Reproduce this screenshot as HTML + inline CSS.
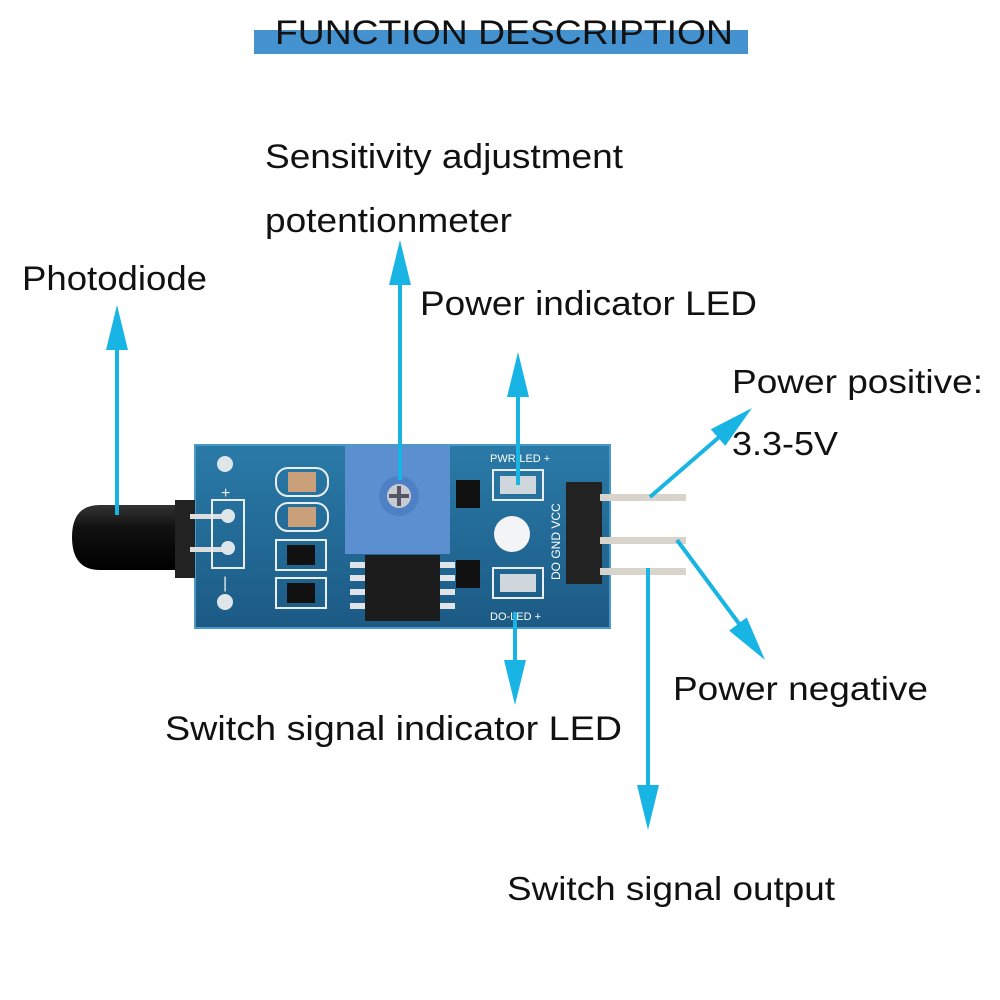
<!DOCTYPE html>
<html><head><meta charset="utf-8"><style>
html,body{margin:0;padding:0;background:#fff;}
svg{display:block;}
text{font-family:"Liberation Sans",sans-serif;fill:#111;}
</style></head><body>
<svg width="1000" height="1000" viewBox="0 0 1000 1000" xmlns="http://www.w3.org/2000/svg">
<defs>
<linearGradient id="pcb" x1="0" y1="0" x2="0" y2="1">
<stop offset="0" stop-color="#2a7aa8"/><stop offset="1" stop-color="#1c5a85"/>
</linearGradient>
<linearGradient id="pd" x1="0" y1="0" x2="0" y2="1">
<stop offset="0" stop-color="#333"/><stop offset="0.35" stop-color="#111"/><stop offset="1" stop-color="#000"/>
</linearGradient>
<polygon id="hd" points="0,0 -11,45 11,45" fill="#18b4e4"/>
</defs>

<!-- title -->
<rect x="254" y="30" width="494" height="24" fill="#4492d0"/>
<text x="275" y="44" font-size="34" textLength="458" lengthAdjust="spacingAndGlyphs">FUNCTION DESCRIPTION</text>

<!-- labels -->
<text x="265" y="168" font-size="34" textLength="358" lengthAdjust="spacingAndGlyphs">Sensitivity adjustment</text>
<text x="265" y="232" font-size="34" textLength="247" lengthAdjust="spacingAndGlyphs">potentionmeter</text>
<text x="22" y="290" font-size="34" textLength="185" lengthAdjust="spacingAndGlyphs">Photodiode</text>
<text x="420" y="315" font-size="34" textLength="337" lengthAdjust="spacingAndGlyphs">Power indicator LED</text>
<text x="732" y="393" font-size="33" textLength="251" lengthAdjust="spacingAndGlyphs">Power positive:</text>
<text x="732" y="455" font-size="33" textLength="106" lengthAdjust="spacingAndGlyphs">3.3-5V</text>
<text x="673" y="700" font-size="33" textLength="255" lengthAdjust="spacingAndGlyphs">Power negative</text>
<text x="165" y="740" font-size="34" textLength="457" lengthAdjust="spacingAndGlyphs">Switch signal indicator LED</text>
<text x="507" y="900" font-size="33" textLength="328" lengthAdjust="spacingAndGlyphs">Switch signal output</text>

<!-- board -->
<rect x="195" y="445" width="415" height="183" fill="url(#pcb)" stroke="#4a9ac8" stroke-width="2"/>
<path d="M190,505 L100,505 Q72,505 72,537 Q72,570 100,570 L190,570 Z" fill="url(#pd)"/>
<rect x="175" y="500" width="20" height="78" fill="#222"/>
<rect x="190" y="514" width="40" height="5" fill="#ddd"/>
<rect x="190" y="547" width="40" height="5" fill="#ddd"/>
<rect x="212" y="500" width="32" height="68" fill="none" stroke="#e8eef2" stroke-width="2"/>
<circle cx="228" cy="516" r="7" fill="#dfe6ea"/><circle cx="228" cy="548" r="7" fill="#dfe6ea"/>
<circle cx="225" cy="464" r="8" fill="#dfe6ea"/><circle cx="225" cy="602" r="8" fill="#dfe6ea"/>
<text x="221" y="498" font-size="16" style="fill:#eee">+</text>
<text x="223" y="588" font-size="16" style="fill:#eee">|</text>
<g fill="none" stroke="#e8eef2" stroke-width="2">
<rect x="276" y="468" width="52" height="28" rx="12"/>
<rect x="276" y="503" width="52" height="28" rx="12"/>
<rect x="276" y="540" width="50" height="30" />
<rect x="276" y="578" width="50" height="30" />
</g>
<rect x="288" y="472" width="28" height="20" fill="#c9a07a"/>
<rect x="288" y="507" width="28" height="20" fill="#c9a07a"/>
<rect x="287" y="545" width="28" height="20" fill="#111"/>
<rect x="287" y="583" width="28" height="20" fill="#111"/>
<rect x="345" y="446" width="105" height="108" fill="#5b8fd0"/>
<circle cx="399" cy="496" r="20" fill="#4d80c4"/>
<circle cx="399" cy="496" r="12" fill="#c8ccd2"/>
<path d="M389,496 H409 M399,486 V506" stroke="#556" stroke-width="4"/>
<rect x="365" y="555" width="75" height="66" fill="#1c1c1c"/>
<g fill="#e0e4e8">
<rect x="350" y="562" width="15" height="6"/><rect x="350" y="575" width="15" height="6"/><rect x="350" y="589" width="15" height="6"/><rect x="350" y="603" width="15" height="6"/>
<rect x="440" y="562" width="15" height="6"/><rect x="440" y="575" width="15" height="6"/><rect x="440" y="589" width="15" height="6"/><rect x="440" y="603" width="15" height="6"/>
</g>
<rect x="456" y="480" width="24" height="28" fill="#111"/>
<rect x="456" y="560" width="24" height="28" fill="#111"/>
<rect x="493" y="470" width="50" height="30" fill="none" stroke="#e8eef2" stroke-width="2"/>
<rect x="500" y="476" width="36" height="18" fill="#cfd6dc"/>
<rect x="493" y="568" width="50" height="30" fill="none" stroke="#e8eef2" stroke-width="2"/>
<rect x="500" y="574" width="36" height="18" fill="#cfd6dc"/>
<text x="490" y="462" font-size="11" style="fill:#fff">PWR-LED +</text>
<text x="490" y="620" font-size="11" style="fill:#fff">DO-LED +</text>
<circle cx="512" cy="534" r="18" fill="#f2f4f6"/>
<text x="560" y="580" font-size="12" style="fill:#fff" transform="rotate(-90 560 580)">DO GND VCC</text>
<rect x="566" y="482" width="36" height="102" fill="#222"/>
<rect x="600" y="494" width="86" height="7" fill="#d8d4cc"/>
<rect x="600" y="537" width="86" height="7" fill="#d8d4cc"/>
<rect x="600" y="568" width="86" height="7" fill="#d8d4cc"/>

<!-- arrows -->
<g stroke="#18b4e4" stroke-width="4" fill="none">
<line x1="117" y1="515" x2="117" y2="340"/>
<line x1="400" y1="480" x2="400" y2="275"/>
<line x1="518" y1="485" x2="518" y2="390"/>
<line x1="650" y1="497" x2="725" y2="432"/>
<line x1="677" y1="540" x2="740" y2="625"/>
<line x1="515" y1="612" x2="515" y2="670"/>
<line x1="648" y1="568" x2="648" y2="795"/>
</g>
<use href="#hd" transform="translate(117,305)"/>
<use href="#hd" transform="translate(400,240)"/>
<use href="#hd" transform="translate(518,352)"/>
<use href="#hd" transform="translate(752,408) rotate(49)"/>
<use href="#hd" transform="translate(765,660) rotate(143)"/>
<use href="#hd" transform="translate(515,705) rotate(180)"/>
<use href="#hd" transform="translate(648,830) rotate(180)"/>
</svg>
</body></html>
